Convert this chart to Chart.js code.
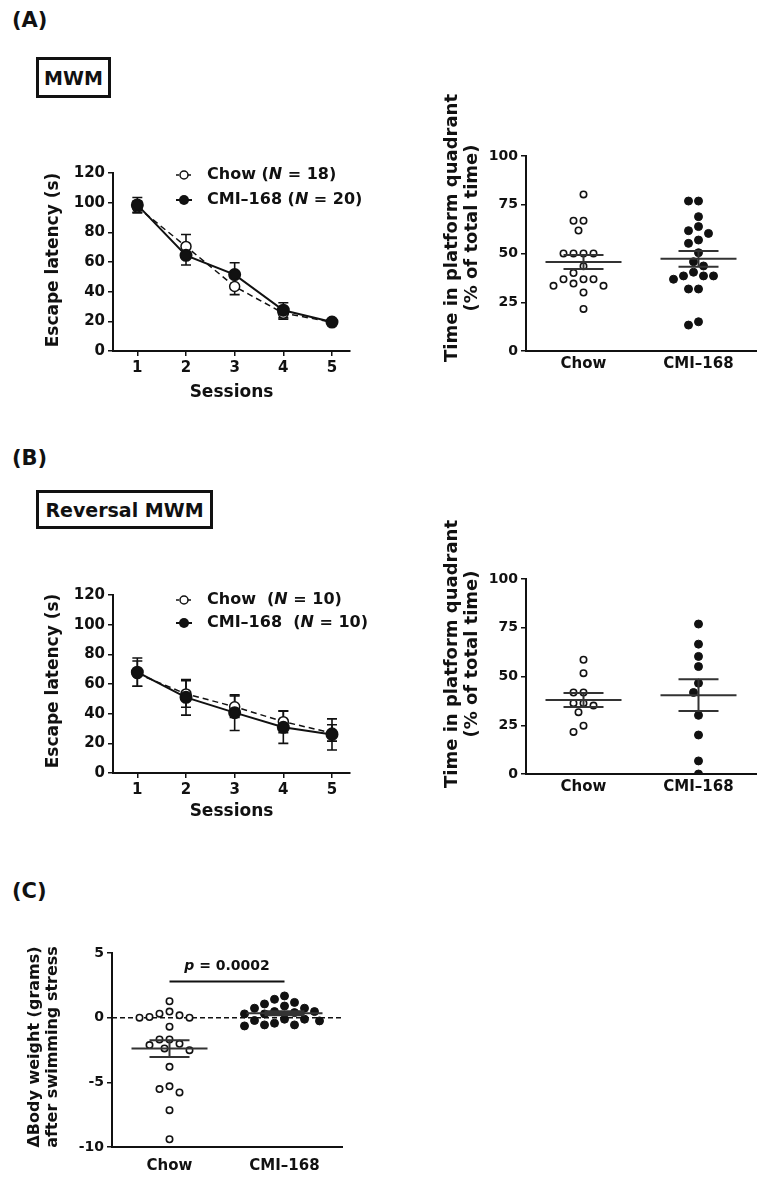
<!DOCTYPE html>
<html>
<head>
<meta charset="utf-8">
<script src="https://cdn.jsdelivr.net/npm/chart.js@4.4.1/dist/chart.umd.min.js"></script>
<style>
  body { margin: 0; width: 768px; height: 1181px; position: relative; overflow: hidden; background: #fff;
         font-family: 'DejaVu Sans', sans-serif; color: #111; }
  .lbl { position: absolute; left: 12px; font-weight: 700; font-size: 21px; }
  .box { position: absolute; left: 36px; border: 3px solid #111; box-sizing: border-box; font-weight: 700; font-size: 19px;
         display: flex; align-items: center; justify-content: center; }
  canvas { position: absolute; }
</style>
</head>
<body>
<div class="lbl" style="top:8px">(A)</div>
<div class="box" style="top:57px;width:75px;height:41px">MWM</div>
<div class="lbl" style="top:446px">(B)</div>
<div class="box" style="top:490px;width:177px;height:39px">Reversal MWM</div>
<div class="lbl" style="top:879px">(C)</div>

<canvas id="mwmLine" width="380" height="266" style="left:0;top:140px"></canvas>
<canvas id="mwmQuad" width="368" height="350" style="left:400px;top:60px"></canvas>
<canvas id="revLine" width="380" height="255" style="left:0;top:570px"></canvas>
<canvas id="revQuad" width="368" height="340" style="left:400px;top:480px"></canvas>
<canvas id="bwDots" width="380" height="271" style="left:0;top:910px"></canvas>

<script>
// ---- data ----
const sessions = [1, 2, 3, 4, 5];
const groups = ['Chow', 'CMI–168'];

// (A) MWM: escape latency, mean ± SEM
const mwmChow = [97, 70.5, 43.5, 25.5, 19.5];
const mwmChowSem = [4, 8, 5.5, 4, 1];
const mwmCmi = [98.5, 64.5, 51.5, 27.5, 19.5];
const mwmCmiSem = [5, 6.5, 8, 5, 1];
const mwmN = [18, 20];

// (A) time in platform quadrant (%)
const mwmQuadChow = [80.3, 66.8, 66.8, 61.8, 50, 50, 50, 50, 43.5, 40, 36.8, 36.8, 36.8, 34.6, 33.4, 33.4, 30, 21.6];
const mwmQuadCmi = [76.9, 76.9, 68.9, 63.8, 61.7, 60.3, 56.9, 55.2, 50.4, 45.8, 43.6, 38.5, 38.5, 36.8, 38.5, 40.4, 31.8, 31.8, 13.3, 15];

// (B) reversal MWM
const revChow = [67, 53.3, 44.7, 34.6, 27];
const revChowSem = [8.5, 9, 7.2, 7.4, 5.5];
const revCmi = [68, 51, 40.7, 30.8, 26];
const revCmiSem = [9.5, 12, 12, 10.8, 10.5];
const revN = [10, 10];

const revQuadChow = [58.6, 51.7, 41.8, 41.8, 36.3, 35.1, 36.3, 31.7, 24.8, 21.6];
const revQuadCmi = [76.9, 66.6, 60.3, 55.1, 46.6, 41.8, 30.1, 20, 6.7, 0];

// (C) body weight change after swimming stress (g)
const bwChow = [1.27, 0.47, 0.18, 0, 0.05, 0, 0.31, -0.7, -1.68, -1.68, -2.12, -2.02, -2.51, -2.38, -3.8, -5.31, -5.78, -5.52, -7.15, -9.4];
const bwCmi = [1.68, 1.18, 1.42, 0.9, 1.06, 0.73, 0.73, 0.47, 0.29, 0.29, 0.47, 0.39, -0.12, -0.25, -0.12, -0.22, -0.43, -0.56, -0.64, -0.56];
const pValue = '0.0002';
const sigBarY = 2.8;
const sigTextY = 3.95;

// ---- style ----
const INK = '#111';
const FONT = "'DejaVu Sans', sans-serif";
const GROUP_PX = 115; // px between group centres in the dot plots

Chart.defaults.font.family = FONT;
Chart.defaults.font.weight = 'bold';
Chart.defaults.color = INK;
Chart.defaults.animation = false;
Chart.defaults.plugins.legend.display = false;
Chart.defaults.plugins.tooltip.enabled = false;

const tickGrid = { drawOnChartArea: false, drawTicks: true, tickLength: 5, color: INK, lineWidth: 1.5 };
const noGrid = { display: false, drawTicks: false };
const axisLine = { display: true, color: INK, width: 2 };

// ---- plugins ----
const errorBarPlugin = {
  id: 'errorBars',
  beforeDatasetsDraw(chart) {
    const { ctx, scales: { y } } = chart;
    chart.data.datasets.forEach((ds, di) => {
      if (!ds.sem) return;
      const meta = chart.getDatasetMeta(di);
      ctx.save();
      ctx.strokeStyle = INK;
      ctx.lineWidth = 1.6;
      meta.data.forEach((pt, i) => {
        const v = ds.data[i].y;
        const top = y.getPixelForValue(v + ds.sem[i]);
        const bot = y.getPixelForValue(v - ds.sem[i]);
        ctx.beginPath();
        ctx.moveTo(pt.x, top); ctx.lineTo(pt.x, bot);
        ctx.moveTo(pt.x - 5, top); ctx.lineTo(pt.x + 5, top);
        ctx.moveTo(pt.x - 5, bot); ctx.lineTo(pt.x + 5, bot);
        ctx.stroke();
      });
      ctx.restore();
    });
  }
};

const keyPlugin = {
  id: 'seriesKey',
  afterDraw(chart, args, opts) {
    if (!opts.rows) return;
    const ctx = chart.ctx;
    opts.rows.forEach((row, r) => {
      const cy = opts.top + r * opts.gap;
      ctx.save();
      ctx.strokeStyle = INK;
      ctx.lineWidth = row.open ? 1.5 : 2;
      ctx.setLineDash(row.open ? [3, 3] : []);
      ctx.beginPath();
      ctx.moveTo(opts.x, cy); ctx.lineTo(opts.x + 16, cy);
      ctx.stroke();
      ctx.setLineDash([]);
      ctx.beginPath();
      ctx.arc(opts.x + 8, cy, row.open ? 4 : 5, 0, Math.PI * 2);
      ctx.fillStyle = row.open ? '#fff' : INK;
      ctx.fill();
      if (row.open) ctx.stroke();
      let tx = opts.x + 31;
      ctx.fillStyle = INK;
      ctx.textBaseline = 'middle';
      row.parts.forEach(([txt, italic]) => {
        ctx.font = `${italic ? 'italic ' : ''}bold 16px ${FONT}`;
        ctx.fillText(txt, tx, cy);
        tx += ctx.measureText(txt).width;
      });
      ctx.restore();
    });
  }
};

const sideTitlePlugin = {
  id: 'sideTitle',
  afterDraw(chart, args, opts) {
    if (!opts.lines) return;
    const ctx = chart.ctx;
    ctx.save();
    ctx.font = `bold ${opts.size}px ${FONT}`;
    ctx.textAlign = 'center';
    ctx.textBaseline = 'middle';
    ctx.fillStyle = INK;
    opts.lines.forEach((t, i) => {
      ctx.save();
      ctx.translate(opts.x + i * (opts.gap || 0), opts.y);
      ctx.rotate(-Math.PI / 2);
      ctx.fillText(t, 0, 0);
      ctx.restore();
    });
    ctx.restore();
  }
};

const meanSemPlugin = {
  id: 'meanSem',
  afterDatasetsDraw(chart) {
    const { ctx, scales: { x, y } } = chart;
    chart.data.datasets.forEach(ds => {
      const vals = ds.values;
      const n = vals.length;
      const mean = vals.reduce((a, b) => a + b, 0) / n;
      const sd = Math.sqrt(vals.reduce((a, b) => a + (b - mean) ** 2, 0) / (n - 1));
      const sem = sd / Math.sqrt(n);
      const cx = x.getPixelForValue(ds.group);
      const ym = y.getPixelForValue(mean);
      const yt = y.getPixelForValue(mean + sem);
      const yb = y.getPixelForValue(mean - sem);
      ctx.save();
      ctx.strokeStyle = '#333';
      ctx.lineWidth = 2;
      ctx.beginPath();
      ctx.moveTo(cx - 38, ym); ctx.lineTo(cx + 38, ym);
      ctx.moveTo(cx - 20, yt); ctx.lineTo(cx + 20, yt);
      ctx.moveTo(cx - 20, yb); ctx.lineTo(cx + 20, yb);
      ctx.moveTo(cx, yt); ctx.lineTo(cx, yb);
      ctx.stroke();
      ctx.restore();
    });
  }
};

const sigPlugin = {
  id: 'sig',
  beforeDatasetsDraw(chart, args, opts) {
    if (!opts.on) return;
    const { ctx, chartArea, scales: { y } } = chart;
    const y0 = y.getPixelForValue(0);
    ctx.save();
    ctx.strokeStyle = INK;
    ctx.lineWidth = 1.5;
    ctx.setLineDash([5, 3]);
    ctx.beginPath();
    ctx.moveTo(chartArea.left, y0); ctx.lineTo(chartArea.right, y0);
    ctx.stroke();
    ctx.restore();
  },
  afterDraw(chart, args, opts) {
    if (!opts.on) return;
    const { ctx, scales: { x, y } } = chart;
    const x0 = x.getPixelForValue(0), x1 = x.getPixelForValue(1);
    const yb = y.getPixelForValue(sigBarY);
    ctx.save();
    ctx.strokeStyle = INK;
    ctx.lineWidth = 2;
    ctx.beginPath();
    ctx.moveTo(x0, yb); ctx.lineTo(x1, yb);
    ctx.stroke();
    const parts = [['p', true], [' = ' + pValue, false]];
    let w = 0;
    parts.forEach(([t, it]) => { ctx.font = `${it ? 'italic ' : ''}bold 14px ${FONT}`; w += ctx.measureText(t).width; });
    let tx = (x0 + x1) / 2 - w / 2;
    const ty = y.getPixelForValue(sigTextY);
    ctx.fillStyle = INK;
    ctx.textBaseline = 'middle';
    parts.forEach(([t, it]) => {
      ctx.font = `${it ? 'italic ' : ''}bold 14px ${FONT}`;
      ctx.fillText(t, tx, ty);
      tx += ctx.measureText(t).width;
    });
    ctx.restore();
  }
};

// simple beeswarm: horizontal offsets (px) so dots do not overlap
function swarmOffsets(values, pxPerUnit, diam = 9.8, step = 5) {
  const placed = [];
  const offs = new Array(values.length);
  const order = values.map((v, i) => i).sort((a, b) => values[b] - values[a]);
  order.forEach(i => {
    const py = values[i] * pxPerUnit;
    for (let k = 0; k < 40; k++) {
      const cands = k === 0 ? [0] : [-k * step, k * step];
      const hit = cands.find(cx => placed.every(p => Math.hypot(p.x - cx, p.y - py) >= diam));
      if (hit !== undefined) {
        placed.push({ x: hit, y: py });
        offs[i] = hit;
        break;
      }
    }
  });
  return offs;
}

function lineChart(canvasId, chow, chowSem, cmi, cmiSem, n, lay) {
  const pts = arr => sessions.map((s, i) => ({ x: s, y: arr[i] }));
  const sp = lay.wide ? '  (' : ' (';
  return new Chart(document.getElementById(canvasId), {
    type: 'line',
    data: {
      datasets: [
        { label: groups[1], data: pts(cmi), sem: cmiSem, borderColor: INK, borderWidth: 2, tension: 0,
          pointRadius: 5.5, pointBackgroundColor: INK, pointBorderColor: INK },
        { label: groups[0], data: pts(chow), sem: chowSem, borderColor: INK, borderWidth: 1.5, borderDash: [6, 4], tension: 0,
          pointRadius: 5, pointBorderWidth: 1.5, pointBackgroundColor: '#fff', pointBorderColor: INK }
      ]
    },
    options: {
      responsive: false,
      layout: { padding: { top: lay.top, right: 30, left: 0, bottom: 0 } },
      scales: {
        x: {
          type: 'linear', min: 0.5, max: 5.37,
          afterBuildTicks: s => { s.ticks = sessions.map(v => ({ value: v })); },
          afterFit: s => { s.height = lay.xHeight; },
          grid: tickGrid, border: axisLine,
          ticks: { font: { size: 15, weight: 'bold' }, color: INK, padding: 3 },
          title: { display: true, text: 'Sessions', font: { size: 17, weight: 'bold' }, color: INK, padding: { top: 0, bottom: 3 } }
        },
        y: {
          min: 0, max: 120,
          afterFit: s => { s.width = 113; },
          grid: tickGrid, border: axisLine,
          ticks: { stepSize: 20, font: { size: 15, weight: 'bold' }, color: INK, padding: 3 }
        }
      },
      plugins: {
        sideTitle: { lines: ['Escape latency (s)'], x: 54, y: lay.titleY, size: 17 },
        seriesKey: {
          x: 176, top: lay.keyTop, gap: lay.keyGap,
          rows: [
            { open: true, parts: [[groups[0] + sp, false], ['N', true], [` = ${n[0]})`, false]] },
            { open: false, parts: [[groups[1] + sp, false], ['N', true], [` = ${n[1]})`, false]] }
          ]
        }
      }
    },
    plugins: [errorBarPlugin, keyPlugin, sideTitlePlugin]
  });
}

function dotChart(canvasId, chowVals, cmiVals, lay) {
  const pxPerUnit = lay.plotH / (lay.max - lay.min);
  const dots = (vals, g) => {
    const offs = swarmOffsets(vals, pxPerUnit);
    return vals.map((v, i) => ({ x: g + offs[i] / GROUP_PX, y: v }));
  };
  return new Chart(document.getElementById(canvasId), {
    type: 'scatter',
    data: {
      datasets: [
        { data: dots(cmiVals, 1), values: cmiVals, group: 1, pointRadius: 4, pointBorderWidth: 1,
          pointBackgroundColor: INK, pointBorderColor: INK },
        { data: dots(chowVals, 0), values: chowVals, group: 0, pointRadius: 3.2, pointBorderWidth: 1.6,
          pointBackgroundColor: '#fff', pointBorderColor: INK }
      ]
    },
    options: {
      responsive: false,
      layout: { padding: { top: lay.top, right: lay.right, left: 0, bottom: 0 } },
      scales: {
        x: {
          type: 'linear', min: -0.5, max: 1.5,
          afterBuildTicks: s => { s.ticks = [{ value: 0 }, { value: 1 }]; },
          afterFit: s => { s.height = lay.xHeight; },
          grid: noGrid, border: axisLine,
          ticks: { font: { size: 15, weight: 'bold' }, color: INK, padding: lay.labelPad, callback: v => groups[v] }
        },
        y: {
          min: lay.min, max: lay.max,
          afterFit: s => { s.width = lay.yWidth; },
          grid: tickGrid, border: axisLine,
          ticks: { stepSize: lay.step, font: { size: 14, weight: 'bold' }, color: INK, padding: 3 }
        }
      },
      plugins: {
        sideTitle: { lines: lay.title, x: lay.titleX, gap: lay.titleGap, y: lay.titleY, size: lay.titleSize },
        sig: { on: !!lay.sig }
      }
    },
    plugins: [meanSemPlugin, sideTitlePlugin, sigPlugin]
  });
}

const quadTitle = ['Time in platform quadrant', '(% of total time)'];

lineChart('mwmLine', mwmChow, mwmChowSem, mwmCmi, mwmCmiSem, mwmN,
  { top: 33, xHeight: 55, titleY: 120, keyTop: 35, keyGap: 25, wide: false });
lineChart('revLine', revChow, revChowSem, revCmi, revCmiSem, revN,
  { top: 25, xHeight: 52, titleY: 111, keyTop: 30, keyGap: 23, wide: true });

dotChart('mwmQuad', mwmQuadChow, mwmQuadCmi,
  { top: 96, right: 12, yWidth: 126, xHeight: 59, plotH: 195, min: 0, max: 100, step: 25, labelPad: 4,
    title: quadTitle, titleX: 52, titleGap: 20, titleY: 168, titleSize: 18 });
dotChart('revQuad', revQuadChow, revQuadCmi,
  { top: 99, right: 12, yWidth: 126, xHeight: 46, plotH: 195, min: 0, max: 100, step: 25, labelPad: 4,
    title: quadTitle, titleX: 52, titleGap: 20, titleY: 174, titleSize: 18 });
dotChart('bwDots', bwChow, bwCmi,
  { top: 43, right: 38, yWidth: 112, xHeight: 34, plotH: 194, min: -10, max: 5, step: 5, labelPad: 10,
    title: ['ΔBody weight (grams)', 'after swimming stress'], titleX: 35, titleGap: 18, titleY: 137, titleSize: 16, sig: true });
</script>
</body>
</html>
